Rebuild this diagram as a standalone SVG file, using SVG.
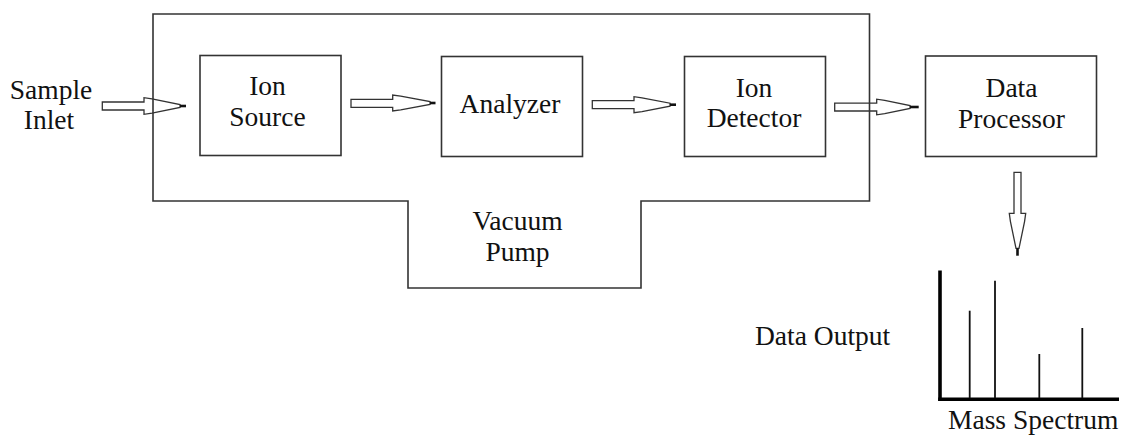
<svg xmlns="http://www.w3.org/2000/svg" width="1123" height="435" viewBox="0 0 1123 435">
<style>
  .box { fill: none; stroke: #333; stroke-width: 1.6; }
  .lbl { font-family: "Liberation Serif", "Times New Roman", serif; font-size: 27.5px; fill: #111; }
  .mid { text-anchor: middle; }
  .arr { fill: none; stroke: #333; stroke-width: 1.3; stroke-linejoin: miter; }
  .tick { stroke: #111; stroke-width: 2.6; }
  .axis { stroke: #000; stroke-width: 3.6; fill: none; }
  .peak { stroke: #111; stroke-width: 1.8; }
</style>
<rect width="1123" height="435" fill="#fff"/>

<g id="vacuum-chamber">
  <path class="box" d="M153,14 H869.5 V201 H641 V288 H408 V201 H153 Z"/>
  <text class="lbl mid" x="517.5" y="230">Vacuum</text>
  <text class="lbl mid" x="517.5" y="261">Pump</text>
</g>

<g id="sample-inlet">
  <text class="lbl mid" x="51" y="98.7">Sample</text>
  <text class="lbl mid" x="49" y="129.3">Inlet</text>
</g>

<g id="ion-source">
  <rect class="box" x="200" y="55.5" width="141" height="100"/>
  <text class="lbl mid" x="267.5" y="94.5">Ion</text>
  <text class="lbl mid" x="267.5" y="125.7">Source</text>
</g>

<g id="analyzer">
  <rect class="box" x="441.5" y="56.5" width="141" height="100"/>
  <text class="lbl mid" x="510" y="112.7">Analyzer</text>
</g>

<g id="ion-detector">
  <rect class="box" x="684.5" y="56.5" width="141" height="100"/>
  <text class="lbl mid" x="754" y="96.7">Ion</text>
  <text class="lbl mid" x="754" y="126.7">Detector</text>
</g>

<g id="data-processor">
  <rect class="box" x="925.5" y="56" width="171" height="100.5"/>
  <text class="lbl mid" x="1011.5" y="96.7">Data</text>
  <text class="lbl mid" x="1011.5" y="128.3">Processor</text>
</g>

<g id="data-output">
  <text class="lbl" x="755" y="345">Data Output</text>
  <line class="axis" x1="940" y1="270.5" x2="940" y2="401"/>
  <line class="axis" x1="938.2" y1="399.3" x2="1119" y2="399.3"/>
  <line class="peak" x1="969.7" y1="310.7" x2="969.7" y2="398"/>
  <line class="peak" x1="995" y1="280.7" x2="995" y2="398"/>
  <line class="peak" x1="1039.3" y1="354" x2="1039.3" y2="398"/>
  <line class="peak" x1="1082.3" y1="328" x2="1082.3" y2="398"/>
  <text class="lbl" x="948" y="429">Mass Spectrum</text>
</g>

<g id="connectors">
  <!-- Sample Inlet -> Ion Source -->
  <polygon class="arr" points="102.3,102 144,102 144,97.7 152,98.8 180,104.5 180,107.5 152,113.2 144,114.3 144,110 102.3,110"/>
  <line class="tick" x1="180" y1="106" x2="186" y2="106"/>
  <!-- Ion Source -> Analyzer -->
  <polygon class="arr" points="351,99.3 392.7,99.3 392.7,95 400.7,96.1 430,101.5 430,104.5 400.7,109.9 392.7,111 392.7,107.3 351,107.3"/>
  <line class="tick" x1="430" y1="103" x2="435.5" y2="103"/>
  <!-- Analyzer -> Ion Detector -->
  <polygon class="arr" points="592.3,100.7 634,100.7 634,96.7 642,97.8 670,103.2 670,106.2 642,111.6 634,112.7 634,108.7 592.3,108.7"/>
  <line class="tick" x1="670" y1="104.7" x2="676" y2="104.7"/>
  <!-- Ion Detector -> Data Processor -->
  <polygon class="arr" points="834.7,103.2 876.7,103.2 876.7,99.2 884.7,100.3 910,105.5 910,108.5 884.7,113.7 876.7,114.8 876.7,111 834.7,111"/>
  <line class="tick" x1="910" y1="107" x2="918.7" y2="107"/>
  <!-- Data Processor -> Data Output -->
  <polygon class="arr" points="1014,172.3 1021,172.3 1021,213.3 1025.7,213.3 1024.6,221.3 1019,248.3 1016,248.3 1010.4,221.3 1009.3,213.3 1014,213.3"/>
  <line class="tick" x1="1017.5" y1="248.3" x2="1017.5" y2="255.7"/>
</g>
</svg>
